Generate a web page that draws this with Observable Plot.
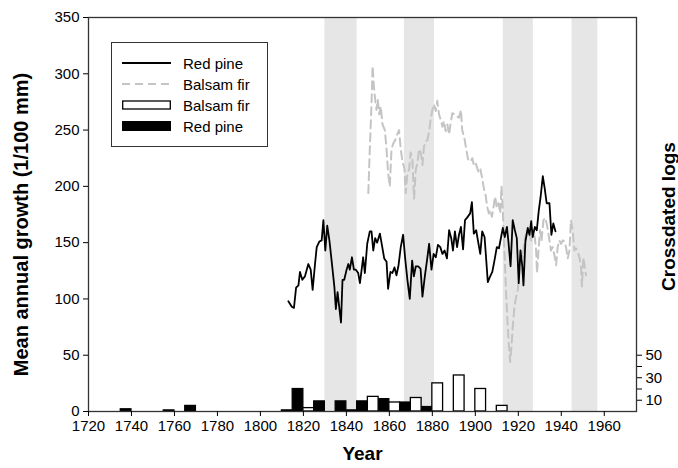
<!DOCTYPE html>
<html>
<head>
<meta charset="utf-8">
<script src="https://cdn.jsdelivr.net/npm/d3@7"></script>
<script src="https://cdn.jsdelivr.net/npm/@observablehq/plot@0.6"></script>
<style>
  body { margin: 0; background: #fff; }
  #wrap { position: relative; width: 678px; height: 468px; font-family: "Liberation Sans", Arial, sans-serif; }
  #legend { position: absolute; left: 111px; top: 42px; width: 157px; height: 105px; border: 1.3px solid #333; background: #fff; box-sizing: border-box; }
  .row { position: absolute; left: 10px; height: 20px; display: flex; align-items: center; font-size: 15px; color: #000; }
  .row svg { margin-right: 12px; }
</style>
</head>
<body>
<div id="wrap">
  <div id="chart"></div>
  <div id="legend">
    <div class="row" style="top:10px"><svg width="49" height="10"><line x1="0" x2="49" y1="5" y2="5" stroke="#000" stroke-width="1.8"/></svg>Red pine</div>
    <div class="row" style="top:31px"><svg width="49" height="10"><line x1="0" x2="49" y1="5" y2="5" stroke="#c4c4c4" stroke-width="2" stroke-dasharray="8,5"/></svg>Balsam fir</div>
    <div class="row" style="top:52px"><svg width="49" height="10"><rect x="0.7" y="1" width="47.6" height="8" fill="#fff" stroke="#000" stroke-width="1.3"/></svg>Balsam fir</div>
    <div class="row" style="top:73px"><svg width="49" height="12"><rect x="0" y="1" width="49" height="10" fill="#000"/></svg>Red pine</div>
  </div>
</div>
<script>
// Shaded periods (years)
const bandStart = [1830, 1867, 1913, 1945];
const bandEnd   = [1845, 1881, 1927, 1957];

// Crossdated logs per decade
const redPineDecades = [1740, 1760, 1770, 1820, 1830, 1840, 1850, 1860, 1870, 1880];
const redPineLogs    = [2, 1, 5, 20, 9, 9, 9, 11, 8, 4];
const balsamDecades  = [1810, 1820, 1840, 1850, 1860, 1870, 1880, 1890, 1900, 1910];
const balsamLogs     = [1, 3, 1, 13, 8, 12, 25, 32, 20, 5];

// Red pine chronology (1/100 mm)
const redPineYears = [1813.0,1814.6,1815.6,1816.6,1817.7,1818.4,1819.5,1820.7,1822.3,1823.4,1824.3,1825.4,1826.2,1827.4,1828.5,1829.3,1830.2,1831.1,1832.1,1833.3,1834.4,1835.1,1835.9,1836.7,1837.5,1838.2,1839.0,1840.1,1840.9,1841.6,1842.6,1843.5,1844.4,1845.5,1846.3,1847.1,1847.8,1848.6,1849.7,1850.9,1851.7,1852.5,1853.4,1854.3,1855.6,1856.7,1857.6,1858.7,1859.4,1860.5,1861.4,1862.4,1863.3,1864.2,1865.3,1866.4,1867.3,1868.4,1869.5,1870.6,1871.4,1872.3,1873.4,1874.5,1875.4,1876.5,1877.5,1878.5,1879.6,1880.6,1881.6,1882.6,1883.7,1884.7,1885.7,1886.8,1887.8,1888.8,1889.6,1890.5,1891.5,1892.4,1893.3,1894.3,1895.2,1896.1,1897.6,1898.4,1899.3,1900.4,1901.2,1902.3,1903.2,1904.3,1905.1,1905.8,1906.9,1907.9,1908.9,1910.0,1911.0,1912.0,1912.8,1913.7,1914.7,1915.4,1916.4,1917.4,1918.4,1919.3,1920.2,1921.0,1921.8,1922.4,1923.3,1924.4,1925.2,1926.0,1926.7,1927.7,1928.6,1929.5,1930.4,1931.4,1932.3,1933.2,1934.5,1935.4,1936.3,1937.3];
const redPineGrowth = [98,93,92,110,112,124,117,120,131,126,108,131,146,151,152,170,143,165,152,131,111,91,106,92,79,117,117,126,131,126,137,126,126,123,114,126,137,123,149,160,160,143,154,150,158,146,136,133,109,124,123,128,121,129,146,157,137,117,100,134,120,129,129,127,102,120,134,149,126,140,137,148,146,140,143,136,161,154,143,160,146,157,164,144,170,172,176,186,158,161,152,140,160,155,134,115,120,124,134,146,145,155,163,155,164,151,129,170,161,154,114,143,130,112,151,163,157,169,155,164,161,178,191,209,198,185,185,157,167,160];

// Balsam fir chronology (1/100 mm)
const balsamYears = [1850.2,1850.9,1851.7,1852.2,1852.8,1853.4,1854.0,1854.6,1855.3,1856.0,1856.8,1857.9,1858.7,1859.4,1860.2,1861.0,1861.8,1862.7,1863.6,1864.5,1865.3,1866.1,1867.0,1867.6,1868.4,1869.2,1869.9,1870.7,1871.5,1872.3,1873.1,1873.8,1874.6,1875.4,1876.1,1876.9,1877.7,1878.5,1879.2,1880.0,1880.8,1881.6,1882.3,1883.1,1883.9,1884.7,1885.4,1886.2,1887.0,1887.8,1888.5,1889.3,1890.4,1891.5,1892.4,1893.3,1893.9,1894.9,1895.8,1896.6,1897.8,1898.6,1899.3,1900.1,1900.9,1901.7,1902.4,1903.2,1904.0,1904.8,1905.5,1906.3,1906.9,1907.7,1908.5,1909.2,1910.0,1910.8,1911.6,1912.2,1912.8,1913.4,1913.9,1914.4,1915.0,1915.6,1916.2,1916.8,1917.4,1918.2,1919.0,1919.8,1920.5,1921.3,1922.1,1922.9,1923.6,1924.6,1925.2,1926.1,1926.7,1927.7,1928.3,1928.7,1929.4,1930.1,1930.8,1931.7,1932.6,1933.5,1934.5,1935.2,1936.0,1936.8,1937.6,1938.3,1939.1,1939.9,1940.7,1941.4,1942.2,1943.0,1943.8,1944.5,1945.3,1946.1,1946.8,1947.6,1948.4,1949.2,1949.6,1950.3,1950.9,1951.5];
const balsamGrowth = [194,233,274,307,289,277,268,277,264,271,255,250,233,212,200,233,238,241,246,250,233,222,216,194,212,215,230,224,189,215,221,233,230,219,235,240,241,249,259,268,273,267,276,264,259,253,258,249,255,246,256,265,264,262,261,268,250,243,233,224,222,225,219,221,216,212,215,207,198,192,182,176,179,173,182,191,181,185,176,200,179,149,126,102,78,60,44,57,75,93,102,108,126,143,137,152,157,161,158,151,161,154,143,123,143,161,152,170,172,164,152,143,146,139,130,146,152,149,152,151,146,136,143,170,161,143,145,143,137,129,111,137,129,121];

const xTicks = [1720,1740,1760,1780,1800,1820,1840,1860,1880,1900,1920,1940,1960];
const yTicks = [0,50,100,150,200,250,300,350];
const logTicks = [10,20,30,40,50];
const logLabels = [10,30,50];

const bands = bandStart.map((s, i) => ({start: s, end: bandEnd[i]}));
const redBars = redPineDecades.map((d, i) => ({decade: d, logs: redPineLogs[i]}));
const firBars = balsamDecades.map((d, i) => ({decade: d, logs: balsamLogs[i]}));
const redLine = redPineYears.map((y, i) => ({year: y, v: redPineGrowth[i]}));
const firLine = balsamYears.map((y, i) => ({year: y, v: balsamGrowth[i]}));

const chart = Plot.plot({
  width: 678,
  height: 468,
  marginLeft: 88,
  marginRight: 42,
  marginTop: 17,
  marginBottom: 57,
  style: {fontFamily: "'Liberation Sans', Arial, sans-serif", fontSize: "15px", color: "#000", background: "transparent"},
  x: {domain: [1720, 1975]},
  y: {domain: [0, 350]},
  marks: [
    Plot.rect(bands, {x1: "start", x2: "end", fill: "#e6e6e6"}),
    Plot.line(firLine, {x: "year", y: "v", stroke: "#c4c4c4", strokeWidth: 2, strokeDasharray: "8,5"}),
    Plot.line(redLine, {x: "year", y: "v", stroke: "#000", strokeWidth: 1.8}),
    Plot.rectY(redBars, {x1: d => d.decade - 5, x2: "decade", y: "logs", fill: "#000", stroke: "#000", strokeWidth: 1.2}),
    Plot.rectY(firBars, {x1: "decade", x2: d => d.decade + 5, y: "logs", fill: "#fff", stroke: "#000", strokeWidth: 1.3}),
    Plot.frame({stroke: "#333", strokeWidth: 1.3}),
    Plot.axisX({ticks: xTicks, tickSize: 5, tickFormat: d => String(d), label: null}),
    Plot.axisY({ticks: yTicks, tickSize: 5, label: null}),
    Plot.axisY({anchor: "right", ticks: logTicks, tickSize: 5, tickFormat: d => logLabels.includes(d) ? String(d) : "", label: null}),
    Plot.text(["Mean annual growth (1/100 mm)"], {frameAnchor: "left", textAnchor: "middle", rotate: -90, dx: -67, dy: 10, fontSize: 20, fontWeight: "bold"}),
    Plot.text(["Crossdated logs"], {frameAnchor: "right", textAnchor: "middle", rotate: -90, dx: 32, dy: 2, fontSize: 19, fontWeight: "bold"}),
    Plot.text(["Year"], {frameAnchor: "bottom", dy: 48, fontSize: 19, fontWeight: "bold"})
  ]
});
document.getElementById("chart").appendChild(chart);
</script>
</body>
</html>
